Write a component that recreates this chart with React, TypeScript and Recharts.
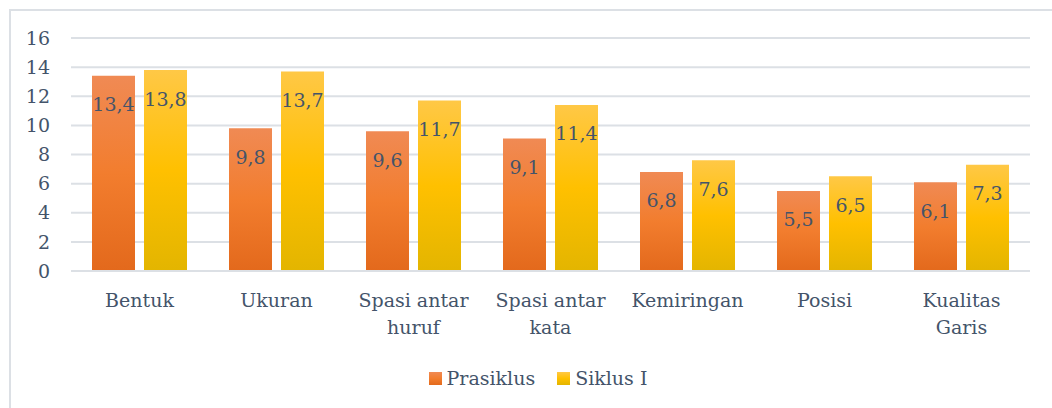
import { BarChart, Bar, XAxis, YAxis, CartesianGrid, Legend, LabelList } from "recharts";

const CATEGORIES = [
  "Bentuk",
  "Ukuran",
  "Spasi antar\nhuruf",
  "Spasi antar\nkata",
  "Kemiringan",
  "Posisi",
  "Kualitas\nGaris",
];
const PRASIKLUS = [13.4, 9.8, 9.6, 9.1, 6.8, 5.5, 6.1];
const SIKLUS_I = [13.8, 13.7, 11.7, 11.4, 7.6, 6.5, 7.3];
const Y_TICKS = [0, 2, 4, 6, 8, 10, 12, 14, 16];

const FONT = "'DejaVu Serif', serif";
const FS = 19;
const TEXT = "#44546A";
const GRID = "#DCE0E5";

const data = CATEGORIES.map((name, i) => ({
  name,
  prasiklus: PRASIKLUS[i],
  siklus: SIKLUS_I[i],
}));

const fmt = (v: any) => Number(v).toFixed(1).replace(".", ",");

// category labels may wrap onto two lines
function CategoryTick(props: any) {
  const { x, y, payload } = props;
  const lines = String(payload.value).split("\n");
  return (
    <text x={x} y={y} textAnchor="middle" fill={TEXT} style={{ fontSize: FS, fontFamily: FONT }}>
      {lines.map((l, i) => (
        <tspan key={i} x={x} dy={i === 0 ? 16 : 27}>
          {l}
        </tspan>
      ))}
    </text>
  );
}

function LegendBox() {
  const items = [
    { label: "Prasiklus", grad: "linear-gradient(#F08A54, #F27D2E, #E36A1C)" },
    { label: "Siklus I", grad: "linear-gradient(#FFC846, #FFC000, #E3B500)" },
  ];
  return (
    <div
      style={{
        display: "flex",
        justifyContent: "center",
        alignItems: "center",
        height: 36,
        paddingLeft: 46,
        fontFamily: FONT,
        fontSize: FS,
        color: TEXT,
      }}
    >
      {items.map((it, i) => (
        <div key={it.label} style={{ display: "flex", alignItems: "center", marginLeft: i ? 22 : 0 }}>
          <span style={{ width: 13, height: 13, background: it.grad, marginRight: 5, display: "inline-block" }} />
          <span>{it.label}</span>
        </div>
      ))}
    </div>
  );
}

export default function App() {
  return (
    <div
      style={{
        position: "absolute",
        left: 0,
        top: 0,
        width: 1052,
        height: 408,
        background: "#fff",
        overflow: "hidden",
      }}
    >
      <div
        style={{
          position: "absolute",
          left: 9,
          top: 9,
          width: 1100,
          height: 450,
          borderTop: `2px solid ${GRID}`,
          borderLeft: `2px solid ${GRID}`,
        }}
      />
      <div style={{ position: "absolute", left: 0, top: 0 }}>
        <BarChart
          width={1052}
          height={408}
          data={data}
          margin={{ top: 38, right: 22, bottom: 12, left: 0 }}
          barSize={43}
          barGap={9}
          style={{ fontFamily: FONT }}
        >
          <defs>
            <linearGradient id="gOrange" x1="0" y1="0" x2="0" y2="1">
              <stop offset="0%" stopColor="#F08A54" />
              <stop offset="50%" stopColor="#F27D2E" />
              <stop offset="100%" stopColor="#E3691C" />
            </linearGradient>
            <linearGradient id="gYellow" x1="0" y1="0" x2="0" y2="1">
              <stop offset="0%" stopColor="#FFC846" />
              <stop offset="50%" stopColor="#FFC000" />
              <stop offset="100%" stopColor="#E3B500" />
            </linearGradient>
          </defs>
          <CartesianGrid vertical={false} stroke={GRID} strokeWidth={2} />
          <XAxis
            dataKey="name"
            height={89}
            tickLine={false}
            axisLine={{ stroke: GRID, strokeWidth: 2 }}
            tickSize={0}
            tickMargin={20}
            interval={0}
            tick={<CategoryTick />}
          />
          <YAxis
            domain={[0, 16]}
            ticks={Y_TICKS}
            interval={0}
            width={71}
            tickLine={false}
            axisLine={false}
            tickSize={0}
            tickMargin={21}
            tick={{ fill: TEXT, fontSize: FS, fontFamily: FONT }}
          />
          <Legend verticalAlign="bottom" content={<LegendBox />} />
          <Bar dataKey="prasiklus" name="Prasiklus" fill="url(#gOrange)" isAnimationActive={false}>
            <LabelList
              dataKey="prasiklus"
              position="insideTop"
              offset={22}
              formatter={fmt}
              fill={TEXT}
              fontSize={FS}
              fontFamily={FONT}
            />
          </Bar>
          <Bar dataKey="siklus" name="Siklus I" fill="url(#gYellow)" isAnimationActive={false}>
            <LabelList
              dataKey="siklus"
              position="insideTop"
              offset={22}
              formatter={fmt}
              fill={TEXT}
              fontSize={FS}
              fontFamily={FONT}
            />
          </Bar>
        </BarChart>
      </div>
    </div>
  );
}
